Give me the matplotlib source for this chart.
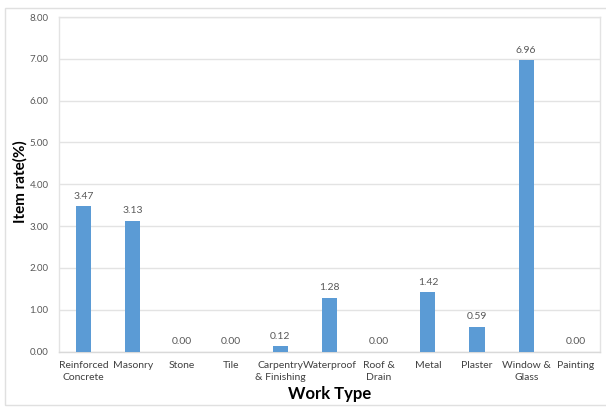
import matplotlib
matplotlib.use("Agg")
import matplotlib.pyplot as plt
from matplotlib.patches import Rectangle

plt.rcParams['font.family'] = ['Lato', 'DejaVu Sans']

work_types = ["Reinforced\nConcrete", "Masonry", "Stone", "Tile", "Carpentry\n& Finishing",
              "Waterproof", "Roof &\nDrain", "Metal", "Plaster", "Window &\nGlass", "Painting"]
item_rates = [3.47, 3.13, 0.00, 0.00, 0.12, 1.28, 0.00, 1.42, 0.59, 6.96, 0.00]
y_ticks = [0, 1, 2, 3, 4, 5, 6, 7, 8]

bar_color = '#5B9BD5'
grid_color = '#E3E3E3'
text_gray = '#595959'

fig = plt.figure(figsize=(6.06, 4.08), dpi=100)
fig.patches.append(Rectangle((5/606, 3/408), 1.2, 397/408, transform=fig.transFigure,
                             fill=False, edgecolor='#E0E0E0', linewidth=1.0))
ax = fig.add_axes([59/606, 56.5/408, 541/606, 334.5/408])

x = range(len(work_types))
bars = ax.bar(x, item_rates, width=0.31, color=bar_color, zorder=3)

for xi, v in zip(x, item_rates):
    ax.annotate(f"{v:.2f}", (xi, v), xytext=(0, 4), textcoords='offset points',
                ha='center', va='bottom', fontsize=7.5, color=text_gray)

ax.set_xlim(-0.5, len(work_types) - 0.5)
ax.set_ylim(0, 8)
ax.set_yticks(y_ticks)
ax.set_yticklabels([f"{t:.2f}" for t in y_ticks], fontsize=7, color=text_gray)
ax.set_xticks(list(x))
ax.set_xticklabels(work_types, fontsize=7.5, color='#404040', linespacing=1.35)
ax.tick_params(length=0, pad=7)
ax.tick_params(axis='y', pad=7.5)

ax.grid(axis='y', color=grid_color, linewidth=1, zorder=0)
for s in ax.spines.values():
    s.set_color(grid_color)
    s.set_linewidth(1)
ax.spines['bottom'].set_color('#D9D9D9')

fig.text(20/606, 1 - 182/408, 'Item rate(%)', rotation=90, ha='center', va='center',
         fontsize=11, fontweight='bold', color='black')
ax.set_xlabel('Work Type', fontsize=12, fontweight='bold', color='black', labelpad=3)

fig.savefig('out.png', dpi=100)
